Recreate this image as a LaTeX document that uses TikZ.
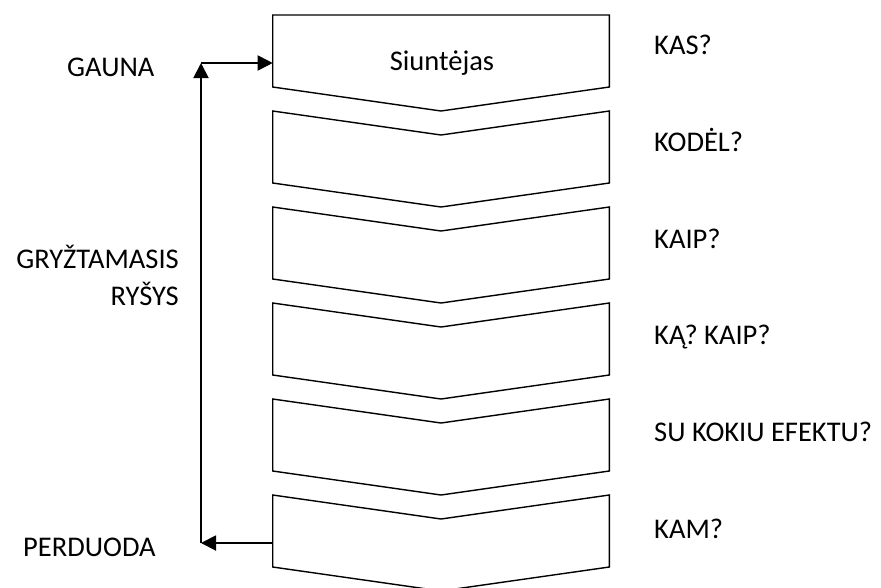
\documentclass[tikz,border=0pt]{standalone}
\usepackage{fontspec}
\setmainfont{Carlito}
\usetikzlibrary{arrows.meta}
\begin{document}
\begin{tikzpicture}[x=1pt,y=-1pt,
  chev/.style={draw=black,line width=1.4pt,line join=miter},
  fb/.style={draw=black,line width=1.9pt,-{Triangle[length=15pt,width=15pt]}},
  lbl/.style={font=\fontsize{28.5}{37}\selectfont,inner sep=0pt},
  q/.style={lbl,anchor=base west}]
\useasboundingbox (0,0) rectangle (881,587);
\def\L{272.7}\def\R{609.3}\def\C{441}
% box 1
\draw[chev] (\L,15) -- (\R,15) -- (\R,87) -- (\C,111) -- (\L,87) -- cycle;
\node[lbl,anchor=base] (b1) at (442,70) {Siuntėjas};
\coordinate (b1w) at (\L,63);
% boxes 2-6
\foreach \t in {111,207,303,399,495}{
  \draw[chev] (\L,\t) -- (\C,\t+24) -- (\R,\t) -- (\R,\t+72) -- (\C,\t+96) -- (\L,\t+72) -- cycle;
}
\coordinate (b6w) at (\L,543);
\coordinate (fbBot) at (201,543);
\coordinate (fbTop) at (201,63);
\draw[fb] (b6w) -- (fbBot);
\draw[fb] (fbBot) -- (fbTop);
\draw[fb] (fbTop) -- (b1w);
% left labels
\node[lbl,anchor=base west] (gauna) at (67,76.7) {GAUNA};
\node[lbl,anchor=base west] (perd) at (23,556.7) {PERDUODA};
\node[lbl,anchor=base east] (gr1) at (179,268) {GRYŽTAMASIS};
\node[lbl,anchor=base east] (gr2) at (179,305) {RYŠYS};
% right labels
\node[q] (q1) at (654,54.3) {KAS?};
\node[q] (q2) at (654,151.2) {KODĖL?};
\node[q] (q3) at (654,248) {KAIP?};
\node[q] (q4) at (654,344.9) {KĄ? KAIP?};
\node[q] (q5) at (654,441.7) {SU KOKIU EFEKTU?};
\node[q] (q6) at (654,538.6) {KAM?};
\end{tikzpicture}
\end{document}
